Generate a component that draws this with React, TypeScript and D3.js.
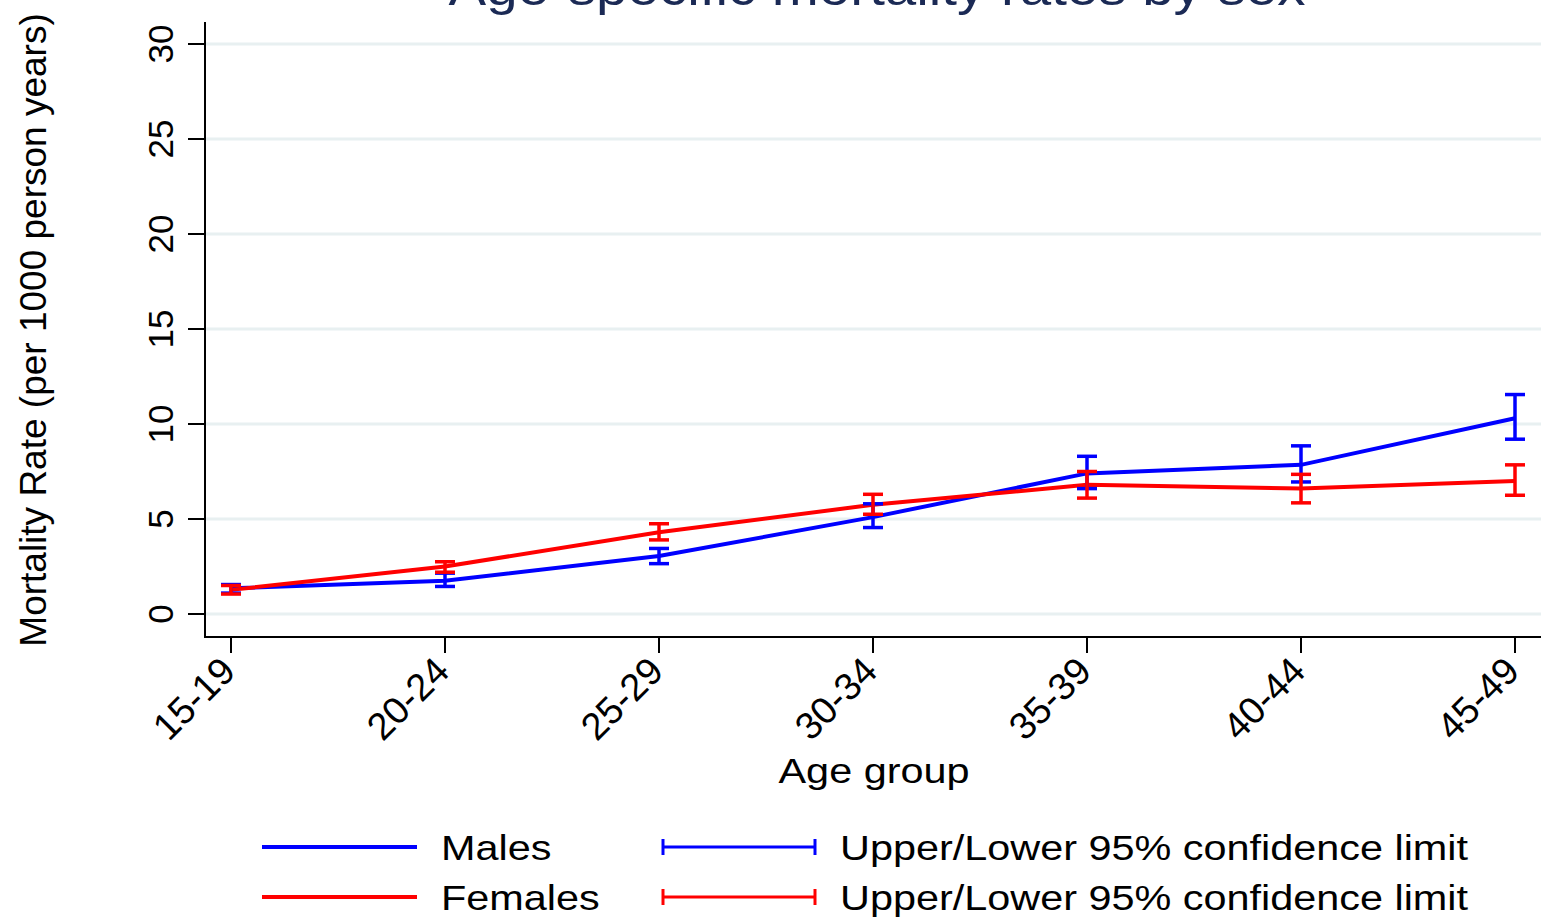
import React from "react";
import * as d3 from "d3";

const ageGroups = ["15-19", "20-24", "25-29", "30-34", "35-39", "40-44", "45-49"];
const malesRate = [1.35, 1.75, 3.05, 5.1, 7.4, 7.85, 10.3];
const malesLower = [1.1, 1.45, 2.65, 4.55, 6.6, 6.95, 9.2];
const malesUpper = [1.55, 2.15, 3.45, 5.8, 8.3, 8.85, 11.55];
const femalesRate = [1.27, 2.5, 4.3, 5.75, 6.8, 6.6, 7.0];
const femalesLower = [1.05, 2.2, 3.9, 5.25, 6.1, 5.85, 6.25];
const femalesUpper = [1.5, 2.75, 4.75, 6.3, 7.5, 7.35, 7.85];
const yTicks = [0, 5, 10, 15, 20, 25, 30];

const W = 1541;
const H = 920;
const FONT = "'Liberation Sans', Arial, sans-serif";
const BLUE = "#0000ff";
const RED = "#ff0000";
const GRID = "#e8f0f1";
const SX = 1.15;

export default function App() {
  const x = d3.scalePoint<string>().domain(ageGroups).range([231, 1515]).padding(0);
  const y = d3.scaleLinear().domain([0, 30]).range([614, 44]);
  const left = 205;
  const bottom = 637;
  const top = 22;

  const line = d3
    .line<number>()
    .x((_, i) => x(ageGroups[i]) as number)
    .y((d) => y(d));

  const errorBars = (lower: number[], upper: number[], color: string) =>
    ageGroups.map((g, i) => {
      const cx = x(g) as number;
      const y1 = y(upper[i]);
      const y2 = y(lower[i]);
      return (
        <g key={g} stroke={color} strokeWidth={3.5}>
          <line x1={cx} x2={cx} y1={y1} y2={y2} />
          <line x1={cx - 10} x2={cx + 10} y1={y1} y2={y1} />
          <line x1={cx - 10} x2={cx + 10} y1={y2} y2={y2} />
        </g>
      );
    });

  const legendRows = [
    { label: "Males", color: BLUE, y: 847 },
    { label: "Females", color: RED, y: 897 },
  ];

  return (
    <div style={{ position: "fixed", left: 0, top: 0, width: W, height: H, background: "#fff" }}>
      <svg width={W} height={H} style={{ display: "block" }} fontFamily={FONT}>
        <rect x={0} y={0} width={W} height={H} fill="#fff" />
        {/* title (cut off at top in the reference) */}
        <text
          transform={`translate(877,5) scale(1.13,1)`}
          textAnchor="middle"
          fontSize={50}
          fill="#1b2a55"
        >
          Age-specific mortality rates by sex
        </text>

        {/* gridlines */}
        {yTicks.map((t) => (
          <line key={t} x1={left} x2={W} y1={y(t)} y2={y(t)} stroke={GRID} strokeWidth={3} />
        ))}

        {/* axes */}
        <line x1={left} x2={left} y1={top} y2={bottom + 1} stroke="#000" strokeWidth={2} />
        <line x1={left - 1} x2={W} y1={bottom} y2={bottom} stroke="#000" strokeWidth={2} />
        {yTicks.map((t) => (
          <g key={t}>
            <line x1={188} x2={left} y1={y(t)} y2={y(t)} stroke="#000" strokeWidth={2} />
            <text
              transform={`translate(173,${y(t)}) rotate(-90)`}
              textAnchor="middle"
              fontSize={35}
              fill="#000"
            >
              {t}
            </text>
          </g>
        ))}
        {ageGroups.map((g) => {
          const cx = x(g) as number;
          return (
            <g key={g}>
              <line x1={cx} x2={cx} y1={bottom} y2={653} stroke="#000" strokeWidth={2} />
              <text
                transform={`translate(${cx - 3},${664}) rotate(-45)`}
                textAnchor="end"
                dy="0.35em"
                fontSize={38}
                fill="#000"
              >
                {g}
              </text>
            </g>
          );
        })}

        {/* axis titles */}
        <text transform={`translate(46,330) rotate(-90)`} textAnchor="middle" fontSize={37} fill="#000">
          Mortality Rate (per 1000 person years)
        </text>
        <text transform={`translate(874,783) scale(${SX},1)`} textAnchor="middle" fontSize={36} fill="#000">
          Age group
        </text>

        {/* series */}
        <path d={line(malesRate) || ""} fill="none" stroke={BLUE} strokeWidth={4} />
        <path d={line(femalesRate) || ""} fill="none" stroke={RED} strokeWidth={4} />
        {errorBars(malesLower, malesUpper, BLUE)}
        {errorBars(femalesLower, femalesUpper, RED)}

        {/* legend */}
        {legendRows.map((r) => (
          <g key={r.label}>
            <line x1={262} x2={417} y1={r.y} y2={r.y} stroke={r.color} strokeWidth={4} />
            <text transform={`translate(441,${r.y + 13}) scale(${SX},1)`} fontSize={36} fill="#000">
              {r.label}
            </text>
            <g stroke={r.color} strokeWidth={3}>
              <line x1={663} x2={815} y1={r.y} y2={r.y} />
              <line x1={663} x2={663} y1={r.y - 8} y2={r.y + 8} />
              <line x1={815} x2={815} y1={r.y - 8} y2={r.y + 8} />
            </g>
            <text transform={`translate(840,${r.y + 13}) scale(${SX},1)`} fontSize={36} fill="#000">
              Upper/Lower 95% confidence limit
            </text>
          </g>
        ))}
      </svg>
    </div>
  );
}
